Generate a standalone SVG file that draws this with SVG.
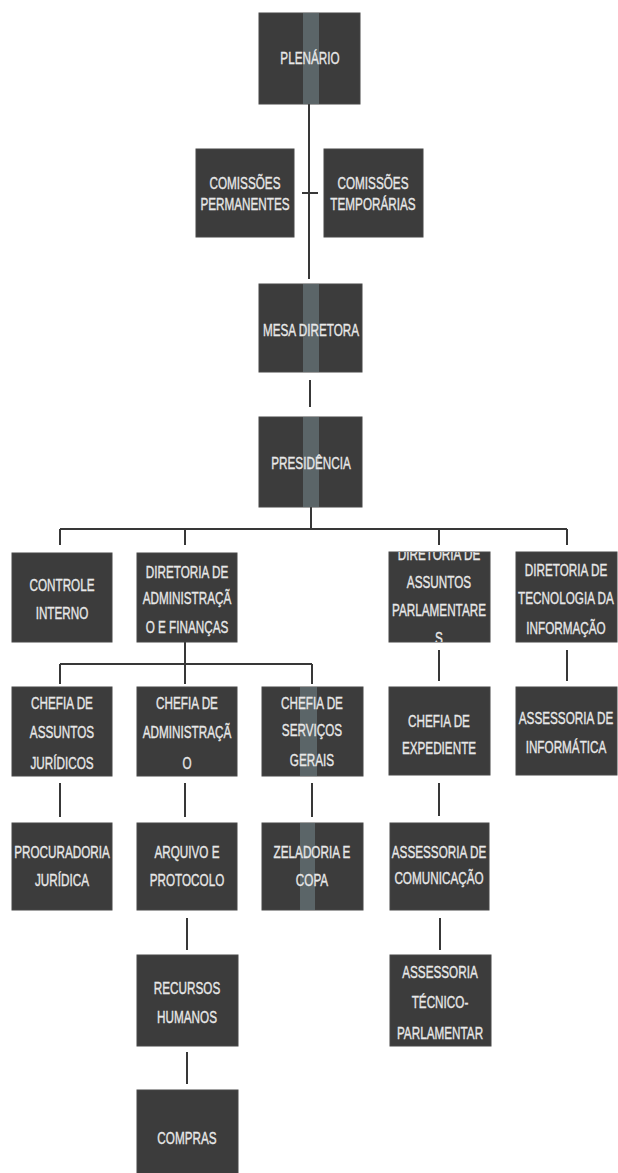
<svg xmlns="http://www.w3.org/2000/svg" width="618" height="1173" viewBox="0 0 618 1173">
<style>
.box{fill:#3c3c3c;stroke:#474747;stroke-width:1}
.stripe{fill:#68767b;opacity:0.7}
.t{font-family:"Liberation Sans",Arial,sans-serif;font-size:17px;fill:#e8e8e8;stroke:#e8e8e8;stroke-width:0.35;text-anchor:middle;dominant-baseline:central}
.c{stroke:#383838;stroke-width:2;fill:none}
</style>
<defs>
<clipPath id="clipParl"><rect x="-200" y="552" width="400" height="90"/></clipPath>
</defs>
<rect width="618" height="1173" fill="#ffffff"/>
<g id="connectors">
<path class="c" d="M309,104 V279 M302,193 H318 M310,380 V407 M311,507 V529 M60,529 H567 M60,529 V545 M185,529 V545 M439,529 V545 M567,529 V545 M185,642 V664 M60,664 H312 M60,664 V684 M185,664 V684 M312,664 V684 M439,650 V681 M567,650 V681 M60,783 V817 M185,783 V817 M312,783 V817 M439,783 V816 M187,918 V950 M440,918 V950 M187,1052 V1084"/>
</g>
<g id="plenario"><rect class="box" x="259" y="13" width="101" height="91"/><rect class="stripe" x="303" y="13" width="16" height="91"/><g transform="translate(310,0) scale(0.69,1)"><text class="t" x="0" y="58">PLENÁRIO</text></g></g>
<g id="comissoes-permanentes"><rect class="box" x="196" y="149" width="98" height="88"/><g transform="translate(245,0) scale(0.69,1)"><text class="t" x="0" y="183">COMISSÕES</text><text class="t" x="0" y="204">PERMANENTES</text></g></g>
<g id="comissoes-temporarias"><rect class="box" x="324" y="149" width="99" height="88"/><g transform="translate(373,0) scale(0.69,1)"><text class="t" x="0" y="183">COMISSÕES</text><text class="t" x="0" y="204">TEMPORÁRIAS</text></g></g>
<g id="mesa-diretora"><rect class="box" x="259" y="284" width="103" height="88"/><rect class="stripe" x="303" y="284" width="16" height="88"/><g transform="translate(311,0) scale(0.69,1)"><text class="t" x="0" y="330">MESA DIRETORA</text></g></g>
<g id="presidencia"><rect class="box" x="259" y="417" width="103" height="90"/><rect class="stripe" x="303" y="417" width="16" height="90"/><g transform="translate(311,0) scale(0.69,1)"><text class="t" x="0" y="463">PRESIDÊNCIA</text></g></g>
<g id="controle-interno"><rect class="box" x="12" y="553" width="100" height="89"/><g transform="translate(62,0) scale(0.69,1)"><text class="t" x="0" y="585">CONTROLE</text><text class="t" x="0" y="613">INTERNO</text></g></g>
<g id="diretoria-administracao"><rect class="box" x="137" y="553" width="100" height="89"/><g transform="translate(187,0) scale(0.69,1)"><text class="t" x="0" y="572">DIRETORIA DE</text><text class="t" x="0" y="598">ADMINISTRAÇÃ</text><text class="t" x="0" y="627">O E FINANÇAS</text></g></g>
<g id="diretoria-parlamentares"><rect class="box" x="389" y="552" width="101" height="90"/><g transform="translate(439,0) scale(0.69,1)"><g clip-path="url(#clipParl)"><text class="t" x="0" y="554">DIRETORIA DE</text><text class="t" x="0" y="582">ASSUNTOS</text><text class="t" x="0" y="610">PARLAMENTARE</text><text class="t" x="0" y="638">S</text></g></g></g>
<g id="diretoria-tecnologia"><rect class="box" x="516" y="552" width="101" height="90"/><g transform="translate(566,0) scale(0.69,1)"><text class="t" x="0" y="570">DIRETORIA DE</text><text class="t" x="0" y="598">TECNOLOGIA  DA</text><text class="t" x="0" y="628">INFORMAÇÃO</text></g></g>
<g id="chefia-juridicos"><rect class="box" x="12" y="687" width="100" height="89"/><g transform="translate(62,0) scale(0.69,1)"><text class="t" x="0" y="703">CHEFIA DE</text><text class="t" x="0" y="732">ASSUNTOS</text><text class="t" x="0" y="763">JURÍDICOS</text></g></g>
<g id="chefia-administracao"><rect class="box" x="137" y="687" width="100" height="89"/><g transform="translate(187,0) scale(0.69,1)"><text class="t" x="0" y="703">CHEFIA DE</text><text class="t" x="0" y="732">ADMINISTRAÇÃ</text><text class="t" x="0" y="763">O</text></g></g>
<g id="chefia-servicos"><rect class="box" x="262" y="687" width="101" height="89"/><rect class="stripe" x="300" y="687" width="17" height="89"/><g transform="translate(312,0) scale(0.69,1)"><text class="t" x="0" y="703">CHEFIA DE</text><text class="t" x="0" y="730">SERVIÇOS</text><text class="t" x="0" y="760">GERAIS</text></g></g>
<g id="chefia-expediente"><rect class="box" x="389" y="687" width="101" height="88"/><g transform="translate(439,0) scale(0.69,1)"><text class="t" x="0" y="721">CHEFIA DE</text><text class="t" x="0" y="748">EXPEDIENTE</text></g></g>
<g id="assessoria-informatica"><rect class="box" x="516" y="687" width="101" height="88"/><g transform="translate(566,0) scale(0.69,1)"><text class="t" x="0" y="718">ASSESSORIA DE</text><text class="t" x="0" y="747">INFORMÁTICA</text></g></g>
<g id="procuradoria"><rect class="box" x="12" y="823" width="100" height="87"/><g transform="translate(62,0) scale(0.69,1)"><text class="t" x="0" y="852">PROCURADORIA</text><text class="t" x="0" y="880">JURÍDICA</text></g></g>
<g id="arquivo"><rect class="box" x="137" y="823" width="100" height="87"/><g transform="translate(187,0) scale(0.69,1)"><text class="t" x="0" y="852">ARQUIVO E</text><text class="t" x="0" y="880">PROTOCOLO</text></g></g>
<g id="zeladoria"><rect class="box" x="262" y="823" width="101" height="87"/><rect class="stripe" x="300" y="823" width="15" height="87"/><g transform="translate(312,0) scale(0.69,1)"><text class="t" x="0" y="852">ZELADORIA E</text><text class="t" x="0" y="880">COPA</text></g></g>
<g id="assessoria-comunicacao"><rect class="box" x="390" y="823" width="99" height="87"/><g transform="translate(439,0) scale(0.69,1)"><text class="t" x="0" y="852">ASSESSORIA DE</text><text class="t" x="0" y="878">COMUNICAÇÃO</text></g></g>
<g id="recursos-humanos"><rect class="box" x="137" y="955" width="101" height="91"/><g transform="translate(187,0) scale(0.69,1)"><text class="t" x="0" y="988">RECURSOS</text><text class="t" x="0" y="1017">HUMANOS</text></g></g>
<g id="assessoria-tecnico"><rect class="box" x="390" y="955" width="101" height="91"/><g transform="translate(440,0) scale(0.69,1)"><text class="t" x="0" y="972">ASSESSORIA</text><text class="t" x="0" y="1002">TÉCNICO-</text><text class="t" x="0" y="1033">PARLAMENTAR</text></g></g>
<g id="compras"><rect class="box" x="137" y="1090" width="101" height="90"/><g transform="translate(187,0) scale(0.69,1)"><text class="t" x="0" y="1138">COMPRAS</text></g></g>
</svg>
